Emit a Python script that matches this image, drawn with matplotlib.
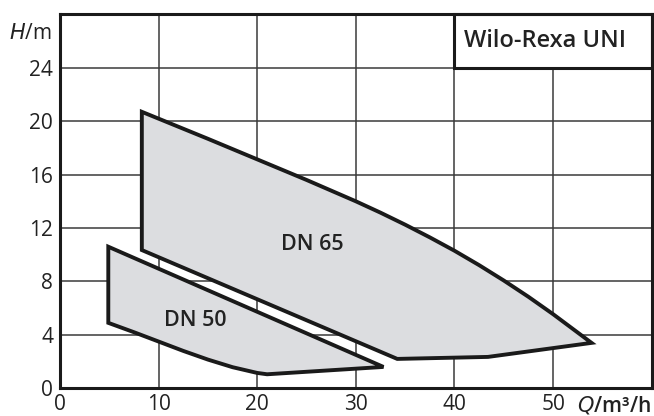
import matplotlib
matplotlib.use("Agg")
import matplotlib.pyplot as plt
from matplotlib.patches import Polygon, Rectangle

# ---- data ----
dn65_q = [8.3, 8.3, 34.2, 43.4, 53.9, 50.0, 47.5, 45.0, 42.5, 40.0, 37.5, 35.0,
          32.5, 30.0, 25.0, 20.0, 15.0]
dn65_h = [20.7, 10.35, 2.2, 2.35, 3.4, 5.55, 6.85, 8.07, 9.22, 10.3, 11.3, 12.25,
          13.15, 14.0, 15.6, 17.14, 18.68]
dn50_q = [4.9, 4.9, 7.5, 10.0, 12.5, 15.0, 17.5, 20.0, 21.0, 32.8]
dn50_h = [10.6, 4.9, 4.2, 3.5, 2.8, 2.15, 1.58, 1.15, 1.05, 1.6]
x_ticks = [0, 10, 20, 30, 40, 50]
y_ticks = [0, 4, 8, 12, 16, 20, 24]
labels = ["DN 65", "DN 50"]
label_pos_q = [25.6, 13.7]
label_pos_h = [10.8, 5.1]
title = "Wilo-Rexa UNI"

plt.rcParams['font.family'] = ['Open Sans', 'DejaVu Sans']
fig = plt.figure(figsize=(6.54, 4.16), dpi=100)
ax = fig.add_axes([0.0917, 0.0666, 0.9048, 0.899])
ax.set_xlim(0, 60)
ax.set_ylim(0, 28)

grid_c = '#3a3a3a'
for x in range(0, 61, 10):
    ax.axvline(x, color=grid_c, lw=1.1, zorder=1)
for y in range(0, 29, 4):
    ax.axhline(y, color=grid_c, lw=1.1, zorder=1)

fill_c = '#dcdde0'
for q, h in [(dn65_q, dn65_h), (dn50_q, dn50_h)]:
    p = Polygon(list(zip(q, h)), closed=True, facecolor=fill_c, edgecolor='#1a1a1a',
                lw=2.8, joinstyle='miter', zorder=3)
    ax.add_patch(p)

for t, xq, yh in zip(labels, label_pos_q, label_pos_h):
    ax.text(xq, yh, t, ha='center', va='center', fontsize=15.5, fontweight='semibold',
            color='#222222', zorder=4)

# title box
box = Rectangle((40, 24), 20, 4, facecolor='white', edgecolor='#1a1a1a', lw=2.2,
                zorder=5, clip_on=False)
ax.add_patch(box)
ax.text(41.0, 26.0, title, ha='left', va='center', fontsize=17, fontweight='semibold',
        color='#222222', zorder=6)

ax.set_xticks(x_ticks)
ax.set_yticks(y_ticks)
ax.set_xticklabels([str(v) for v in x_ticks])
ax.set_yticklabels([str(v) for v in y_ticks])
ax.tick_params(length=0, labelsize=15, colors='#222222', pad=5)
ax.tick_params(axis='x', pad=4)

for s in ax.spines.values():
    s.set_linewidth(2.2)
    s.set_color('#1a1a1a')
    s.set_zorder(7)

# axis unit labels
ax.text(-0.8, 26.6, r"$\mathit{H}$/m", ha='right', va='center', fontsize=15, color='#222222')
fig.text(0.996, 0.0, r"$\mathit{Q}$/m³/h", ha='right', va='bottom', fontsize=15,
         color='#222222', fontweight='semibold')

fig.savefig("out.png", dpi=100)
